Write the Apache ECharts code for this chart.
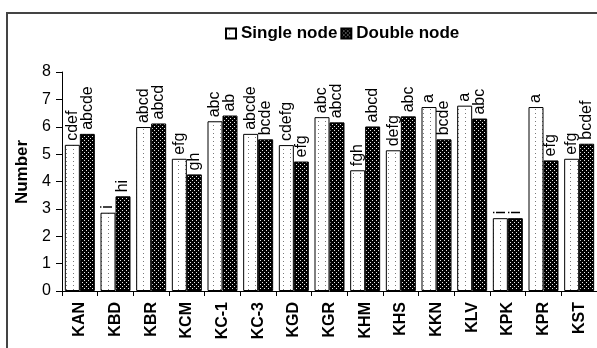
<!DOCTYPE html>
<html>
<head>
<meta charset="utf-8">
<script src="https://cdn.jsdelivr.net/npm/echarts@6/dist/echarts.min.js"></script>
<style>
html,body{margin:0;padding:0;background:#fff;}
#chart{width:597px;height:348px;}
</style>
</head>
<body>
<div id="chart"></div>
<script>
var categories = ['KAN','KBD','KBR','KCM','KC-1','KC-3','KGD','KGR','KHM','KHS','KKN','KLV','KPK','KPR','KST'];
var singleNode = [5.34, 2.86, 5.99, 4.83, 6.20, 5.74, 5.33, 6.35, 4.41, 5.14, 6.72, 6.77, 2.66, 6.72, 4.83];
var doubleNode = [5.74, 3.46, 6.12, 4.26, 6.41, 5.54, 4.73, 6.16, 6.01, 6.38, 5.54, 6.30, 2.66, 4.77, 5.38];
var singleLetters = ['cdef','i','abcd','efg','abc','abcde','cdefg','abc','fgh','defg','a','a','i','a','efg'];
var doubleLetters = ['abcde','hi','abcd','gh','ab','bcde','efg','abcd','abcd','abc','bcde','abc','i','efg','bcdef'];
var yTicks = [0,1,2,3,4,5,6,7,8];

function makePattern(bg, dot, w, h, dots) {
  var c = document.createElement('canvas');
  c.width = w; c.height = h;
  var ctx = c.getContext('2d');
  ctx.fillStyle = bg; ctx.fillRect(0, 0, w, h);
  ctx.fillStyle = dot;
  dots.forEach(function (p) { ctx.fillRect(p[0], p[1], 1, 1); });
  return c;
}
var whitePat = makePattern('#ffffff', '#7a7a7a', 7, 4, [[3, 1]]);
var blackPat = makePattern('#000000', '#e8e8e8', 4, 4, [[0, 0], [2, 2]]);

var chart = echarts.init(document.getElementById('chart'), null, {renderer: 'canvas'});
var font = 'Arial, "Liberation Sans", sans-serif';

function labelFor(letters) {
  return {
    show: true,
    position: 'top',
    rotate: 90,
    align: 'left',
    verticalAlign: 'middle',
    distance: 4,
    fontFamily: font,
    fontSize: 16,
    color: '#000',
    formatter: function (p) { return letters[p.dataIndex]; }
  };
}

chart.setOption({
  animation: false,
  backgroundColor: '#fff',
  graphic: [
    {type: 'rect', z: -10, shape: {x: 7, y: 13, width: 800, height: 600},
     style: {fill: 'rgba(0,0,0,0)', stroke: '#444', lineWidth: 2}},
    {type: 'text', x: 22, y: 172, rotation: Math.PI / 2,
     style: {text: 'Number', font: 'bold 17px ' + font, fill: '#000', align: 'center', verticalAlign: 'middle'}}
  ],
  legend: {
    left: 220, top: 20,
    itemWidth: 10, itemHeight: 10, itemGap: 3,
    icon: 'rect',
    textStyle: {fontFamily: font, fontSize: 17, fontWeight: 'bold', color: '#000'},
    data: ['Single node', 'Double node']
  },
  grid: {left: 62, right: -8, top: 72, bottom: 57, containLabel: false},
  xAxis: {
    type: 'category',
    data: categories,
    axisLine: {lineStyle: {color: '#000', width: 1}},
    axisTick: {show: true, length: 5, lineStyle: {color: '#000'}},
    axisLabel: {rotate: 90, margin: 11, fontFamily: font, fontSize: 16, fontWeight: 'bold', color: '#000', interval: 0}
  },
  yAxis: {
    type: 'value',
    min: yTicks[0], max: yTicks[yTicks.length - 1], interval: 1,
    axisLine: {show: true, lineStyle: {color: '#000', width: 1}},
    axisTick: {show: true, length: 6, lineStyle: {color: '#000'}},
    axisLabel: {margin: 11, fontFamily: font, fontSize: 16, color: '#000'},
    splitLine: {show: false}
  },
  series: [
    {
      name: 'Single node', type: 'bar', data: singleNode,
      barWidth: 15, barGap: '0%',
      itemStyle: {color: {image: whitePat, repeat: 'repeat'}, borderColor: '#000', borderWidth: 1},
      label: labelFor(singleLetters)
    },
    {
      name: 'Double node', type: 'bar', data: doubleNode,
      barWidth: 15, barGap: '0%',
      itemStyle: {color: {image: blackPat, repeat: 'repeat'}, borderColor: '#000', borderWidth: 1},
      label: labelFor(doubleLetters)
    }
  ]
});
</script>
</body>
</html>
